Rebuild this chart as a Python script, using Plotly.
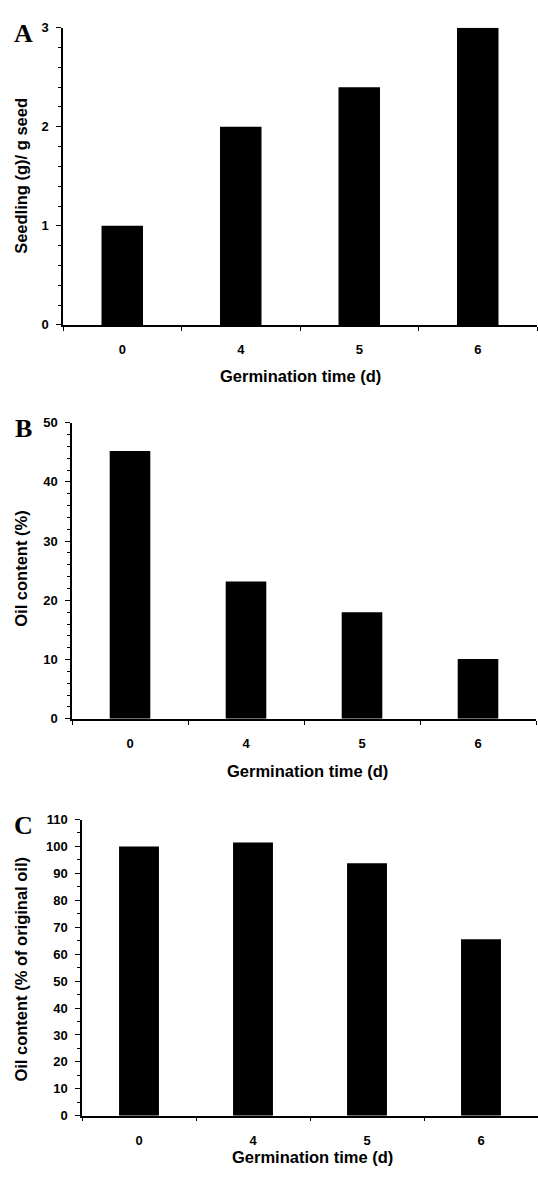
import plotly.graph_objects as go

# Germination data
germination_days = ["0", "4", "5", "6"]
seedling_weight = [1.0, 2.0, 2.4, 3.0]          # g seedling per g seed
oil_content = [45.2, 23.2, 18.0, 10.1]          # % oil
oil_retained = [100.0, 101.5, 93.8, 65.5]       # % of original oil

W, H = 538, 1180


def fx(px):
    return px / W


def fy(py):
    return 1 - py / H


# panel layout in pixels: plot box (left, right, top, bottom),
# y-title centre, x-title centre (x, y)
boxes = {
    "A": dict(box=(63, 537, 21, 322), ytitle_y=171, xtitle=(300, 374)),
    "B": dict(box=(72, 536, 421, 721), ytitle_y=569, xtitle=(307, 774)),
    "C": dict(box=(82, 538, 823, 1123), ytitle_y=975, xtitle=(312, 1165)),
}

panels = [
    ("A", seedling_weight, [0, 3], 1, 0.2, "Seedling (g)/ g seed"),
    ("B", oil_content, [0, 50], 10, 2, "Oil content (%)"),
    ("C", oil_retained, [0, 110], 10, 5, "Oil content (% of original oil)"),
]

tick_font = dict(family="Liberation Sans, Arial", size=13, color="black", weight="bold")
title_font = dict(family="Liberation Sans, Arial", size=16.5, color="black", weight="bold")

fig = go.Figure()
layout = {}
annotations = []

for i, (letter, values, yrange, dtick, minor_dtick, ytitle) in enumerate(panels):
    n = "" if i == 0 else str(i + 1)
    cfg = boxes[letter]
    left, right, top, bottom = cfg["box"]
    fig.add_trace(go.Bar(
        x=germination_days, y=values,
        xaxis="x" + n, yaxis="y" + n,
        marker=dict(color="black", line=dict(width=0)),
        width=0.35, showlegend=False,
    ))
    layout["xaxis" + n] = dict(
        domain=[fx(left), fx(right)], anchor="y" + n,
        type="category", range=[-0.5, 3.5],
        showline=True, linecolor="black", linewidth=1.5,
        ticks="outside", ticklen=4, tickwidth=1.2, tickcolor="black",
        tickson="boundaries", ticklabelstandoff=12,
        tickfont=tick_font, showgrid=False, zeroline=False,
    )
    layout["yaxis" + n] = dict(
        domain=[fy(bottom), fy(top)], anchor="x" + n,
        range=yrange, dtick=dtick, tick0=0,
        showline=True, linecolor="black", linewidth=1.5,
        ticks="outside", ticklen=5, tickwidth=1.2, tickcolor="black",
        minor=dict(dtick=minor_dtick, ticks="outside", ticklen=3,
                   tickwidth=1, tickcolor="black", showgrid=False),
        ticklabelstandoff=5,
        tickfont=tick_font, showgrid=False, zeroline=False,
    )
    # y-axis title
    annotations.append(dict(
        text=ytitle, textangle=-90, xref="paper", yref="paper",
        x=fx(21), y=fy(cfg["ytitle_y"]),
        xanchor="center", yanchor="middle", showarrow=False, font=title_font,
    ))
    # x-axis title
    tx, ty = cfg["xtitle"]
    annotations.append(dict(
        text="Germination time (d)", xref="paper", yref="paper",
        x=fx(tx), y=fy(ty),
        xanchor="center", yanchor="middle", showarrow=False, font=title_font,
    ))
    # panel letter
    annotations.append(dict(
        text=letter, xref="paper", yref="paper",
        x=fx(23), y=fy(top + 6),
        xanchor="center", yanchor="middle", showarrow=False,
        font=dict(family="Liberation Serif, Times New Roman", size=26,
                  color="black", weight="bold"),
    ))

fig.update_layout(
    width=W, height=H,
    margin=dict(l=0, r=0, t=0, b=0),
    paper_bgcolor="white", plot_bgcolor="white",
    bargap=0.65,
    annotations=annotations,
    **layout,
)

fig.write_html("out.html")
